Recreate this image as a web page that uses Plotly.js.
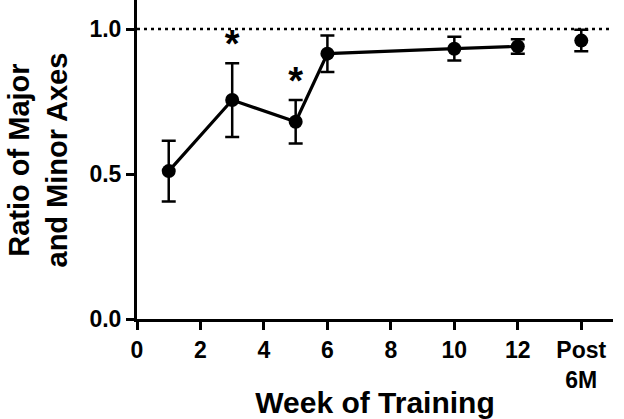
<!DOCTYPE html>
<html>
<head>
<meta charset="utf-8">
<script src="https://cdn.plot.ly/plotly-3.0.1.min.js"></script>
<style>html,body{margin:0;padding:0;background:#fff;}#chart{width:624px;height:419px;}</style>
</head>
<body>
<div id="chart"></div>
<script>
// Data
const weeks = [1, 3, 5, 6, 10, 12];
const ratio = [0.51, 0.755, 0.68, 0.915, 0.932, 0.94];
const ratioErr = [0.105, 0.127, 0.075, 0.063, 0.041, 0.025];
const postX = [14];
const postRatio = [0.96];
const postErr = [0.037];
const sigX = [3, 5];
const sigY = [0.935, 0.81];
const tickVals = [0, 2, 4, 6, 8, 10, 12, 14];
const tickText = ['0', '2', '4', '6', '8', '10', '12', 'Post<br>6M'];
const yTickVals = [0, 0.5, 1.0];
const yTickText = ['0.0', '0.5', '1.0'];
const xTitle = 'Week of Training';
const yTitle = 'Ratio of Major<br>and Minor Axes';
const refLevel = 1.0;

const font = 'Liberation Sans, Arial, Helvetica, sans-serif';

const traces = [
  {
    x: weeks, y: ratio, type: 'scatter', mode: 'lines+markers',
    line: {color: '#000', width: 3.2},
    marker: {color: '#000', size: 14},
    error_y: {type: 'data', array: ratioErr, visible: true, color: '#000', thickness: 2.5, width: 7},
    hoverinfo: 'skip', showlegend: false, cliponaxis: false
  },
  {
    x: postX, y: postRatio, type: 'scatter', mode: 'markers',
    marker: {color: '#000', size: 14},
    error_y: {type: 'data', array: postErr, visible: true, color: '#000', thickness: 2.5, width: 7},
    hoverinfo: 'skip', showlegend: false, cliponaxis: false
  },
  {
    x: sigX, y: sigY, type: 'scatter', mode: 'text', text: sigX.map(() => '*'),
    textfont: {family: font, size: 38, color: '#000', weight: 'bold'},
    hoverinfo: 'skip', showlegend: false, cliponaxis: false
  }
];

const layout = {
  width: 624, height: 419,
  margin: {l: 137, r: 11, t: 0, b: 100},
  paper_bgcolor: '#fff', plot_bgcolor: '#fff',
  font: {family: font, color: '#000'},
  xaxis: {
    range: [0, 15], tickvals: tickVals, ticktext: tickText,
    showgrid: false, zeroline: false, showline: true, linecolor: '#000', linewidth: 3,
    ticks: 'outside', ticklen: 8, tickwidth: 3, tickcolor: '#000',
    tickfont: {family: font, size: 23, color: '#000', weight: 'bold'},
    title: {text: xTitle, font: {family: font, size: 30, color: '#000', weight: 'bold'}, standoff: 6},
    fixedrange: true
  },
  yaxis: {
    range: [0, 1.1], tickvals: yTickVals, ticktext: yTickText,
    showgrid: false, zeroline: false, showline: true, linecolor: '#000', linewidth: 3,
    ticks: 'outside', ticklen: 8, tickwidth: 3, tickcolor: '#000',
    tickfont: {family: font, size: 23, color: '#000', weight: 'bold'},
    fixedrange: true
  },
  annotations: [{
    text: yTitle, xref: 'paper', yref: 'paper', x: -0.208, y: 0.5,
    xanchor: 'center', yanchor: 'middle', textangle: -90, showarrow: false,
    font: {family: font, size: 29, color: '#000', weight: 'bold'}
  }],
  shapes: [{
    type: 'line', xref: 'x', yref: 'y', x0: 0, x1: 15, y0: refLevel, y1: refLevel,
    line: {color: '#000', width: 2.5, dash: '3px,4px'}, layer: 'below'
  }]
};

Plotly.newPlot('chart', traces, layout, {staticPlot: true, displayModeBar: false});
</script>
</body>
</html>
